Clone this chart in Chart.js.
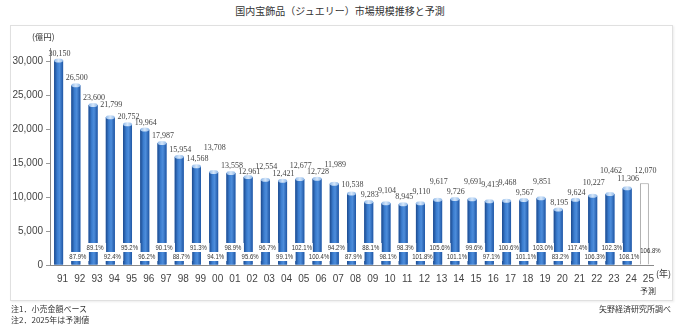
<!DOCTYPE html>
<html lang="ja">
<head>
<meta charset="utf-8">
<script src="https://cdn.jsdelivr.net/npm/chart.js@4.4.1/dist/chart.umd.min.js"></script>
<style>
  body { margin: 0; background: #fff; }
  #wrap { position: relative; width: 680px; height: 330px; overflow: hidden; font-family: "Noto Sans CJK JP", sans-serif; color: #333; }
  #frame { position: absolute; left: 10px; top: 25px; width: 661px; height: 274px; border: 1px solid #e0e0e0; box-shadow: 1px 1px 2px rgba(0,0,0,0.08); }
  canvas { position: absolute; left: 0; top: 0; }
  .t { position: absolute; white-space: nowrap; line-height: 1; }
</style>
</head>
<body>
<div id="wrap">
  <div class="t" style="left:0;width:680px;top:6px;text-align:center;font-size:10px;">国内宝飾品（ジュエリー）市場規模推移と予測</div>
  <div id="frame"></div>
  <canvas id="chart" width="680" height="330"></canvas>
  <div class="t" style="left:32px;top:32px;font-size:8.5px;">(億円)</div>
  <div class="t" style="left:656px;top:269px;font-size:9px;">(年)</div>
  <div class="t" style="left:640px;top:287px;font-size:8px;">予測</div>
  <div class="t" style="left:11px;top:305px;font-size:8px;">注1．小売金額ベース</div>
  <div class="t" style="left:11px;top:316px;font-size:8px;">注2．2025年は予測値</div>
  <div class="t" style="right:9px;top:305px;font-size:8px;">矢野経済研究所調べ</div>
</div>
<script>
// 年（91〜25）
const years = ["91","92","93","94","95","96","97","98","99",
  "00","01","02","03","04","05","06","07","08","09",
  "10","11","12","13","14","15","16","17","18","19",
  "20","21","22","23","24","25"];

// 市場規模（億円）
const marketSize = [30150, 26500, 23600, 21799, 20752, 19964, 17987, 15954, 14568,
  13708, 13558, 12961, 12554, 12421, 12677, 12728, 11989, 10538, 9283,
  9104, 8945, 9110, 9617, 9726, 9691, 9413, 9468, 9567, 9851,
  8195, 9624, 10227, 10462, 11306, 12070];

// 前年比
const yoy = ["", "87.9%", "89.1%", "92.4%", "95.2%", "96.2%", "90.1%", "88.7%", "91.3%",
  "94.1%", "98.9%", "95.6%", "96.7%", "99.1%", "102.1%", "100.4%", "94.2%", "87.9%", "88.1%",
  "98.1%", "98.3%", "101.8%", "105.6%", "101.1%", "99.6%", "97.1%", "100.6%", "101.1%", "103.0%",
  "83.2%", "117.4%", "106.3%", "102.3%", "108.1%", "106.8%"];

const yTicks = [0, 5000, 10000, 15000, 20000, 25000, 30000];
const forecastYear = "25";

// 数値ラベルとバー上端の間隔（px）、既定は7
const labelGap = { "94": 12, "00": 24, "02": 5, "03": 13, "05": 13, "07": 19, "08": 9,
  "10": 12, "12": 11, "13": 18, "15": 17, "16": 16, "17": 18, "19": 16,
  "22": 13, "23": 23, "24": 9, "25": 12 };

// 円柱風のバー
const cylinderPlugin = {
  id: "cylinder",
  afterDatasetsDraw(chart) {
    const ctx = chart.ctx;
    const meta = chart.getDatasetMeta(0);
    meta.data.forEach((bar, i) => {
      if (years[i] === forecastYear) return;
      const { x, y, base, width } = bar.getProps(["x", "y", "base", "width"], true);
      const l = x - width / 2;
      const g = ctx.createLinearGradient(l, 0, l + width, 0);
      g.addColorStop(0, "#1c4a8e");
      g.addColorStop(0.35, "#3b7dcf");
      g.addColorStop(0.6, "#4d8ddb");
      g.addColorStop(1, "#1f56a4");
      ctx.save();
      ctx.fillStyle = g;
      ctx.fillRect(l, y, width, base - y);
      const tg = ctx.createLinearGradient(l, 0, l + width, 0);
      tg.addColorStop(0, "#8fb8e8");
      tg.addColorStop(0.5, "#d6e7fa");
      tg.addColorStop(1, "#8fb8e8");
      ctx.fillStyle = tg;
      ctx.beginPath();
      ctx.ellipse(x, y, width / 2, 2, 0, 0, Math.PI * 2);
      ctx.fill();
      ctx.restore();
    });
  }
};

// 数値ラベルと前年比ラベル
const labelPlugin = {
  id: "labels",
  afterDatasetsDraw(chart) {
    const ctx = chart.ctx;
    const meta = chart.getDatasetMeta(0);
    const last = years.length - 1;
    ctx.save();
    ctx.textAlign = "center";
    ctx.textBaseline = "middle";
    meta.data.forEach((bar, i) => {
      const { x, y, base } = bar.getProps(["x", "y", "base"], true);
      // 市場規模
      const gap = labelGap[years[i]] ?? 7;
      ctx.font = '8px "Liberation Serif"';
      ctx.fillStyle = "#444";
      ctx.fillText(marketSize[i].toLocaleString("en-US"), x + 1, y - gap);
      // 前年比
      if (!yoy[i]) return;
      let cy = i % 2 === 1 ? base - 8 : base - 17;
      let cx = x + 2;
      if (i === last) { cy = base - 14; cx = x + 6; }
      if (i !== last) {
        ctx.fillStyle = "#fff";
        ctx.fillRect(cx - 11, cy - 4.5, 22, 9);
      }
      ctx.save();
      ctx.translate(cx, cy);
      ctx.scale(0.8, 1);
      ctx.font = '7.5px "Liberation Sans"';
      ctx.fillStyle = "#333";
      ctx.fillText(yoy[i], 0, 0.5);
      ctx.restore();
    });
    ctx.restore();
  }
};

new Chart(document.getElementById("chart"), {
  type: "bar",
  data: {
    labels: years,
    datasets: [{
      data: marketSize,
      backgroundColor: years.map(y => y === forecastYear ? "#ffffff" : "#2f6cbf"),
      borderColor: "#a0a0a0",
      borderWidth: years.map(y => y === forecastYear ? 1 : 0),
      borderSkipped: "bottom",
      barPercentage: 0.52,
      categoryPercentage: 1
    }]
  },
  options: {
    responsive: false,
    animation: false,
    devicePixelRatio: 1,
    layout: { padding: { top: 48, right: 27, left: 0, bottom: 0 } },
    plugins: { legend: { display: false }, tooltip: { enabled: false } },
    scales: {
      x: {
        afterFit: s => { s.height = 65; },
        grid: { drawOnChartArea: false, drawTicks: false },
        border: { color: "#8a8a8a" },
        ticks: {
          autoSkip: false, maxRotation: 0, padding: 8, labelOffset: 4,
          color: "#444", font: { family: "Liberation Sans", size: 10 }
        }
      },
      y: {
        min: 0,
        max: 32000,
        afterFit: s => { s.width = 50; },
        afterBuildTicks: s => { s.ticks = yTicks.map(v => ({ value: v })); },
        grid: { drawOnChartArea: false, tickLength: 4, color: "#999" },
        border: { color: "#8a8a8a" },
        ticks: {
          padding: 3, color: "#444",
          font: { family: "Liberation Sans", size: 10 },
          callback: v => v.toLocaleString("en-US")
        }
      }
    }
  },
  plugins: [cylinderPlugin, labelPlugin]
});
</script>
</body>
</html>
